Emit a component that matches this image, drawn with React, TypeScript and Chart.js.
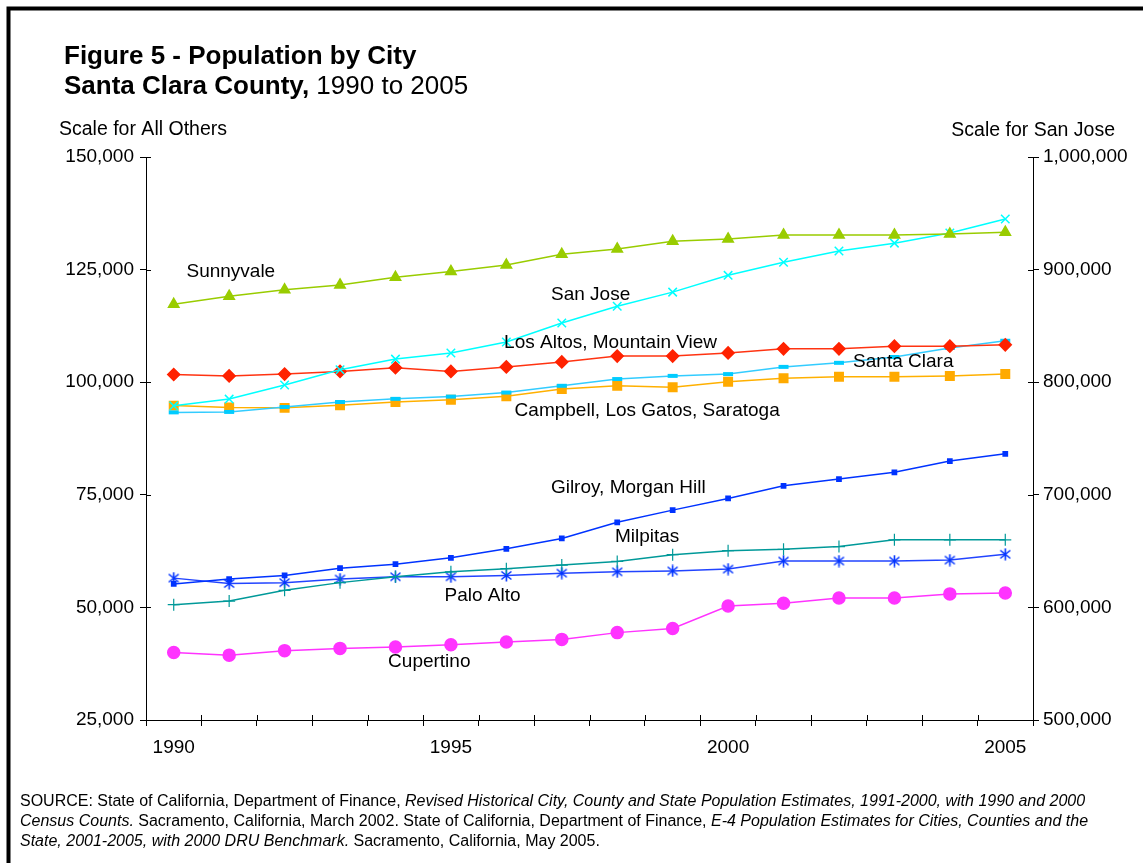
import React, { useEffect, useRef } from "react";
import { Chart, registerables } from "chart.js";

Chart.register(...registerables);

const years = ["1990","1991","1992","1993","1994","1995","1996","1997","1998","1999","2000","2001","2002","2003","2004","2005"];
const shownYears = ["1990", "1995", "2000", "2005"];

const sunnyvale = [117300,119100,120500,121600,123300,124600,126000,128400,129600,131300,131800,132700,132700,132700,132900,133300];
const sanJose = [779000,785000,797500,811000,820500,826000,835700,852500,867500,880000,894900,906500,916500,923500,932500,945000];
const losAltosMountainView = [101700,101400,101800,102400,103200,102400,103400,104500,105800,105800,106500,107400,107400,108000,108000,108300];
const santaClara = [93300,93400,94500,95600,96300,96800,97700,99200,100700,101400,101800,103400,104300,105600,107600,109200];
const campbellLosGatosSaratoga = [94800,94400,94300,94900,95600,96100,96900,98500,99200,98900,100100,100900,101200,101200,101400,101800];
const gilroyMorganHill = [55200,56300,57100,58700,59600,61000,63000,65300,68900,71600,74200,77000,78500,80000,82500,84100];
const milpitas = [50600,51400,53800,55500,56800,57900,58600,59400,60200,61700,62600,62900,63500,65000,65000,65000];
const paloAlto = [56500,55300,55500,56300,56800,56800,57100,57600,57900,58100,58500,60300,60300,60300,60500,61800];
const cupertino = [40000,39400,40400,40900,41200,41700,42300,42900,44400,45300,50300,50900,52100,52100,53000,53200];

const leftTicks = [25000, 50000, 75000, 100000, 125000, 150000];
const rightTicks = [500000, 600000, 700000, 800000, 900000, 1000000];

// Series label text and their anchor (category index, left-scale value)
const labelTexts = ["Sunnyvale","San Jose","Los Altos, Mountain View","Santa Clara","Campbell, Los Gatos, Saratoga","Gilroy, Morgan Hill","Milpitas","Palo Alto","Cupertino"];
const labelAtIndex = [1.03, 7.52, 7.88, 13.16, 8.54, 8.2, 8.54, 5.57, 4.61];
const labelAtValue = [124500, 119400, 108700, 104500, 93600, 76500, 65600, 52500, 37900];

const titleLine1 = "Figure 5 - Population by City";
const titleLine2Bold = "Santa Clara County,";
const titleLine2Rest = " 1990 to 2005";
const leftAxisTitle = "Scale for All Others";
const rightAxisTitle = "Scale for San Jose";
const sourceLines: [string, boolean][][] = [
  [["SOURCE: State of California, Department of Finance, ", false], ["Revised Historical City, County and State Population Estimates, 1991-2000, with 1990 and 2000", true]],
  [["Census Counts.", true], [" Sacramento, California, March 2002. State of California, Department of Finance, ", false], ["E-4 Population Estimates for Cities, Counties and the", true]],
  [["State, 2001-2005, with 2000 DRU Benchmark.", true], [" Sacramento, California, May 2005.", false]],
];

const FONT = "'Liberation Sans', Arial, Helvetica, sans-serif";

function makeAsterisk(color: string) {
  const c = document.createElement("canvas");
  c.width = 13; c.height = 13;
  const g = c.getContext("2d")!;
  g.strokeStyle = color; g.lineWidth = 1.6;
  g.beginPath();
  g.moveTo(1.5, 2.5); g.lineTo(11.5, 10.5);
  g.moveTo(11.5, 2.5); g.lineTo(1.5, 10.5);
  g.moveTo(6.5, 0.5); g.lineTo(6.5, 12.5);
  g.stroke();
  return c;
}

export default function App() {
  const ref = useRef<HTMLCanvasElement>(null);
  useEffect(() => {
    if (!ref.current) return;
    const fmt = (v: number) => Math.round(v).toLocaleString("en-US");
    const decor = {
      id: "decor",
      beforeDraw(chart: any) {
        const ctx = chart.ctx;
        ctx.save();
        ctx.fillStyle = "#fff";
        ctx.fillRect(0, 0, chart.width, chart.height);
        ctx.strokeStyle = "#000";
        ctx.lineWidth = 4;
        ctx.strokeRect(8.5, 8.5, 3000, 3000);
        ctx.fillStyle = "#000";
        ctx.textBaseline = "alphabetic";
        ctx.textAlign = "left";
        ctx.font = `bold 26px ${FONT}`;
        ctx.fillText(titleLine1, 64, 64);
        ctx.fillText(titleLine2Bold, 64, 94);
        const w = ctx.measureText(titleLine2Bold).width;
        ctx.font = `26px ${FONT}`;
        ctx.fillText(titleLine2Rest, 64 + w, 94);
        ctx.font = `19.5px ${FONT}`;
        ctx.textBaseline = "middle";
        ctx.fillText(leftAxisTitle, 59, 130);
        ctx.textAlign = "right";
        ctx.fillText(rightAxisTitle, 1115, 131);
        ctx.textAlign = "left";
        ctx.textBaseline = "alphabetic";
        sourceLines.forEach((runs, i) => {
          let x = 20;
          const y = 806 + i * 20;
          runs.forEach(([t, it]) => {
            ctx.font = `${it ? "italic " : ""}16px ${FONT}`;
            ctx.fillText(t, x, y);
            x += ctx.measureText(t).width;
          });
        });
        ctx.restore();
      },
      afterDraw(chart: any) {
        const ctx = chart.ctx;
        const { left, right, bottom } = chart.chartArea;
        const y = chart.scales.y;
        const y2 = chart.scales.y2;
        ctx.save();
        ctx.strokeStyle = "#000";
        ctx.lineWidth = 1;
        ctx.beginPath();
        leftTicks.forEach((v) => {
          const p = Math.round(y.getPixelForValue(v)) + 0.5;
          ctx.moveTo(left, p); ctx.lineTo(left + 5, p);
        });
        rightTicks.forEach((v) => {
          const p = Math.round(y2.getPixelForValue(v)) + 0.5;
          ctx.moveTo(right - 5, p); ctx.lineTo(right, p);
        });
        const n = years.length;
        for (let i = 0; i <= n; i++) {
          const px = Math.round(left + (i * (right - left)) / n) + 0.5;
          ctx.moveTo(px, bottom - 5); ctx.lineTo(px, bottom);
        }
        ctx.stroke();
        ctx.fillStyle = "#000";
        ctx.font = `19px ${FONT}`;
        ctx.textAlign = "center";
        ctx.textBaseline = "middle";
        const xs = chart.scales.x;
        labelTexts.forEach((t, i) => {
          ctx.fillText(t, xs.getPixelForValue(labelAtIndex[i]), y.getPixelForValue(labelAtValue[i]));
        });
        ctx.restore();
      },
    };

    const ds = (label: string, data: number[], color: string, lineColor: string, style: any, radius: number, extra: any = {}) => ({
      label, data, borderColor: lineColor, backgroundColor: color,
      pointBackgroundColor: color, pointBorderColor: color,
      pointStyle: style, pointRadius: radius, pointBorderWidth: 1.5,
      borderWidth: 1.5, tension: 0, yAxisID: "y", ...extra,
    });

    const chart = new Chart(ref.current, {
      type: "line",
      data: {
        labels: years,
        datasets: [
          ds("Sunnyvale", sunnyvale, "#99CC00", "#99CC00", "triangle", 6),
          ds("San Jose", sanJose, "#00FFFF", "#00FFFF", "crossRot", 6, { yAxisID: "y2" }),
          ds("Los Altos, Mountain View", losAltosMountainView, "#FF2200", "#FF3311", "rectRot", 6),
          ds("Santa Clara", santaClara, "#00CCFF", "#33CCFF", "line", 5, { pointBorderWidth: 4 }),
          ds("Campbell, Los Gatos, Saratoga", campbellLosGatosSaratoga, "#FFAA00", "#FFB000", "rect", 6),
          ds("Gilroy, Morgan Hill", gilroyMorganHill, "#0033FF", "#0033FF", "rect", 3),
          ds("Milpitas", milpitas, "#009999", "#009999", "cross", 6, { pointBorderWidth: 1.2 }),
          ds("Palo Alto", paloAlto, "#0033FF", "#2244FF", makeAsterisk("#0033FF"), 6),
          ds("Cupertino", cupertino, "#FF33FF", "#FF33FF", "circle", 6),
        ],
      },
      options: {
        responsive: false,
        animation: false,
        devicePixelRatio: 1,
        layout: { padding: { top: 157, left: 0, right: 0, bottom: 0 } },
        plugins: { legend: { display: false }, tooltip: { enabled: false }, title: { display: false } },
        scales: {
          x: {
            type: "category",
            offset: true,
            grid: { offset: true, drawOnChartArea: false, drawTicks: true, tickLength: 6, color: "#000" },
            border: { display: true, color: "#000", width: 1 },
            ticks: {
              autoSkip: false, maxRotation: 0, padding: 10, color: "#000",
              font: { family: FONT, size: 19 },
              callback: (_v: any, i: number) => (shownYears.includes(years[i]) ? years[i] : ""),
            },
            afterFit: (s: any) => { s.height = 143; },
          },
          y: {
            position: "left", min: 25000, max: 150000,
            grid: { drawOnChartArea: false, tickLength: 6, color: "#000" },
            border: { display: true, color: "#000", width: 1 },
            ticks: { stepSize: 25000, padding: 6, color: "#000", font: { family: FONT, size: 19 }, callback: (v: any) => fmt(v) },
            afterFit: (s: any) => { s.width = 146; },
          },
          y2: {
            position: "right", min: 500000, max: 1000000,
            grid: { drawOnChartArea: false, tickLength: 6, color: "#000" },
            border: { display: true, color: "#000", width: 1 },
            ticks: { stepSize: 100000, padding: 4, color: "#000", font: { family: FONT, size: 19 }, callback: (v: any) => fmt(v) },
            afterFit: (s: any) => { s.width = 110; },
          },
        },
      },
      plugins: [decor],
    } as any);
    return () => chart.destroy();
  }, []);
  return (
    <div style={{ position: "fixed", left: 0, top: 0, width: 1143, height: 863, background: "#fff" }}>
      <canvas ref={ref} width={1143} height={863} style={{ display: "block" }} />
    </div>
  );
}
